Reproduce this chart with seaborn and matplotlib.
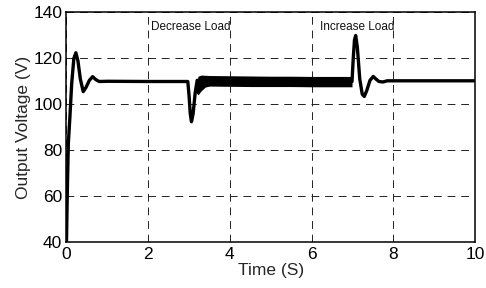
import numpy as np
import pandas as pd
import matplotlib
matplotlib.use("Agg")
import matplotlib.pyplot as plt
import seaborn as sns

# Output voltage trace (time in s, voltage in V)
time_s = [0.0, 0.02, 0.045, 0.085, 0.127, 0.18, 0.23, 0.28, 0.34, 0.41,
          0.48, 0.56, 0.64, 0.72, 0.80, 1.0, 2.0, 2.97,
          3.00, 3.03, 3.06, 3.10, 3.15, 3.20, 3.30, 4.0, 5.0, 6.0, 6.99,
          7.02, 7.05, 7.08, 7.12, 7.18, 7.24, 7.29, 7.35, 7.43, 7.51,
          7.58, 7.65, 7.75, 7.85, 9.0, 10.0]
voltage = [40.0, 62.0, 83.0, 95.0, 109.0, 120.0, 122.5, 119.0, 111.0, 105.6,
           107.5, 110.5, 112.1, 110.8, 110.0, 110.1, 110.0, 110.0,
           104.0, 96.0, 92.5, 96.0, 105.0, 110.5, 110.2, 110.2, 110.2, 110.1, 110.0,
           120.0, 128.0, 130.0, 125.0, 111.0, 104.5, 103.5, 106.0, 110.5, 112.2,
           111.0, 110.0, 109.8, 110.3, 110.3, 110.3]

# Envelope of the ripple band after the load decrease
band_t = [3.16, 3.22, 3.30, 3.40, 3.50, 4.0, 4.5, 5.0, 5.5, 6.0, 6.5, 6.99]
band_hi = [106.5, 112.3, 112.8, 112.7, 112.6, 112.5, 112.4, 112.3, 112.3, 112.2, 112.2, 112.2]
band_lo = [105.5, 104.2, 106.0, 107.6, 108.0, 107.9, 107.8, 107.8, 107.8, 107.7, 107.7, 107.7]

x_ticks = [0, 2, 4, 6, 8, 10]
y_ticks = [40, 60, 80, 100, 120, 140]
events = [("Decrease Load", 2.08, 133.8), ("Increase Load", 6.2, 133.8)]

sns.set_theme(style="white")
plt.rcParams["font.family"] = ["Liberation Sans", "DejaVu Sans"]

fig = plt.figure(figsize=(4.86, 2.88), dpi=100)
ax = fig.add_axes([0.1368, 0.158, 0.8405, 0.7986])

df = pd.DataFrame({"t": time_s, "v": voltage})
sns.lineplot(data=df, x="t", y="v", color="black", linewidth=2.4,
             estimator=None, sort=False, ax=ax)
ax.fill_between(band_t, band_lo, band_hi, color="black", linewidth=0)

ax.set_xlim(0, 10)
ax.set_ylim(40, 140)
ax.set_xticks(x_ticks)
ax.set_yticks(y_ticks)
ax.set_xlabel("Time (S)", fontsize=12.5, labelpad=1)
ax.set_ylabel("Output Voltage (V)", fontsize=12.5, labelpad=2)
ax.tick_params(axis="both", labelsize=12.5, direction="in", length=3,
               width=0.8, color="black", labelcolor="black")
ax.tick_params(axis="x", pad=3)
ax.tick_params(axis="y", pad=3)

ax.grid(True, color="#222222", linestyle=(0, (8, 6)), linewidth=0.7)
for s in ax.spines.values():
    s.set_color("black")
    s.set_linewidth(1.1)

for label, tx, ty in events:
    ax.text(tx, ty, label, fontsize=8.5, ha="left", va="center", color="#111111")

fig.savefig("out.png", dpi=100)
